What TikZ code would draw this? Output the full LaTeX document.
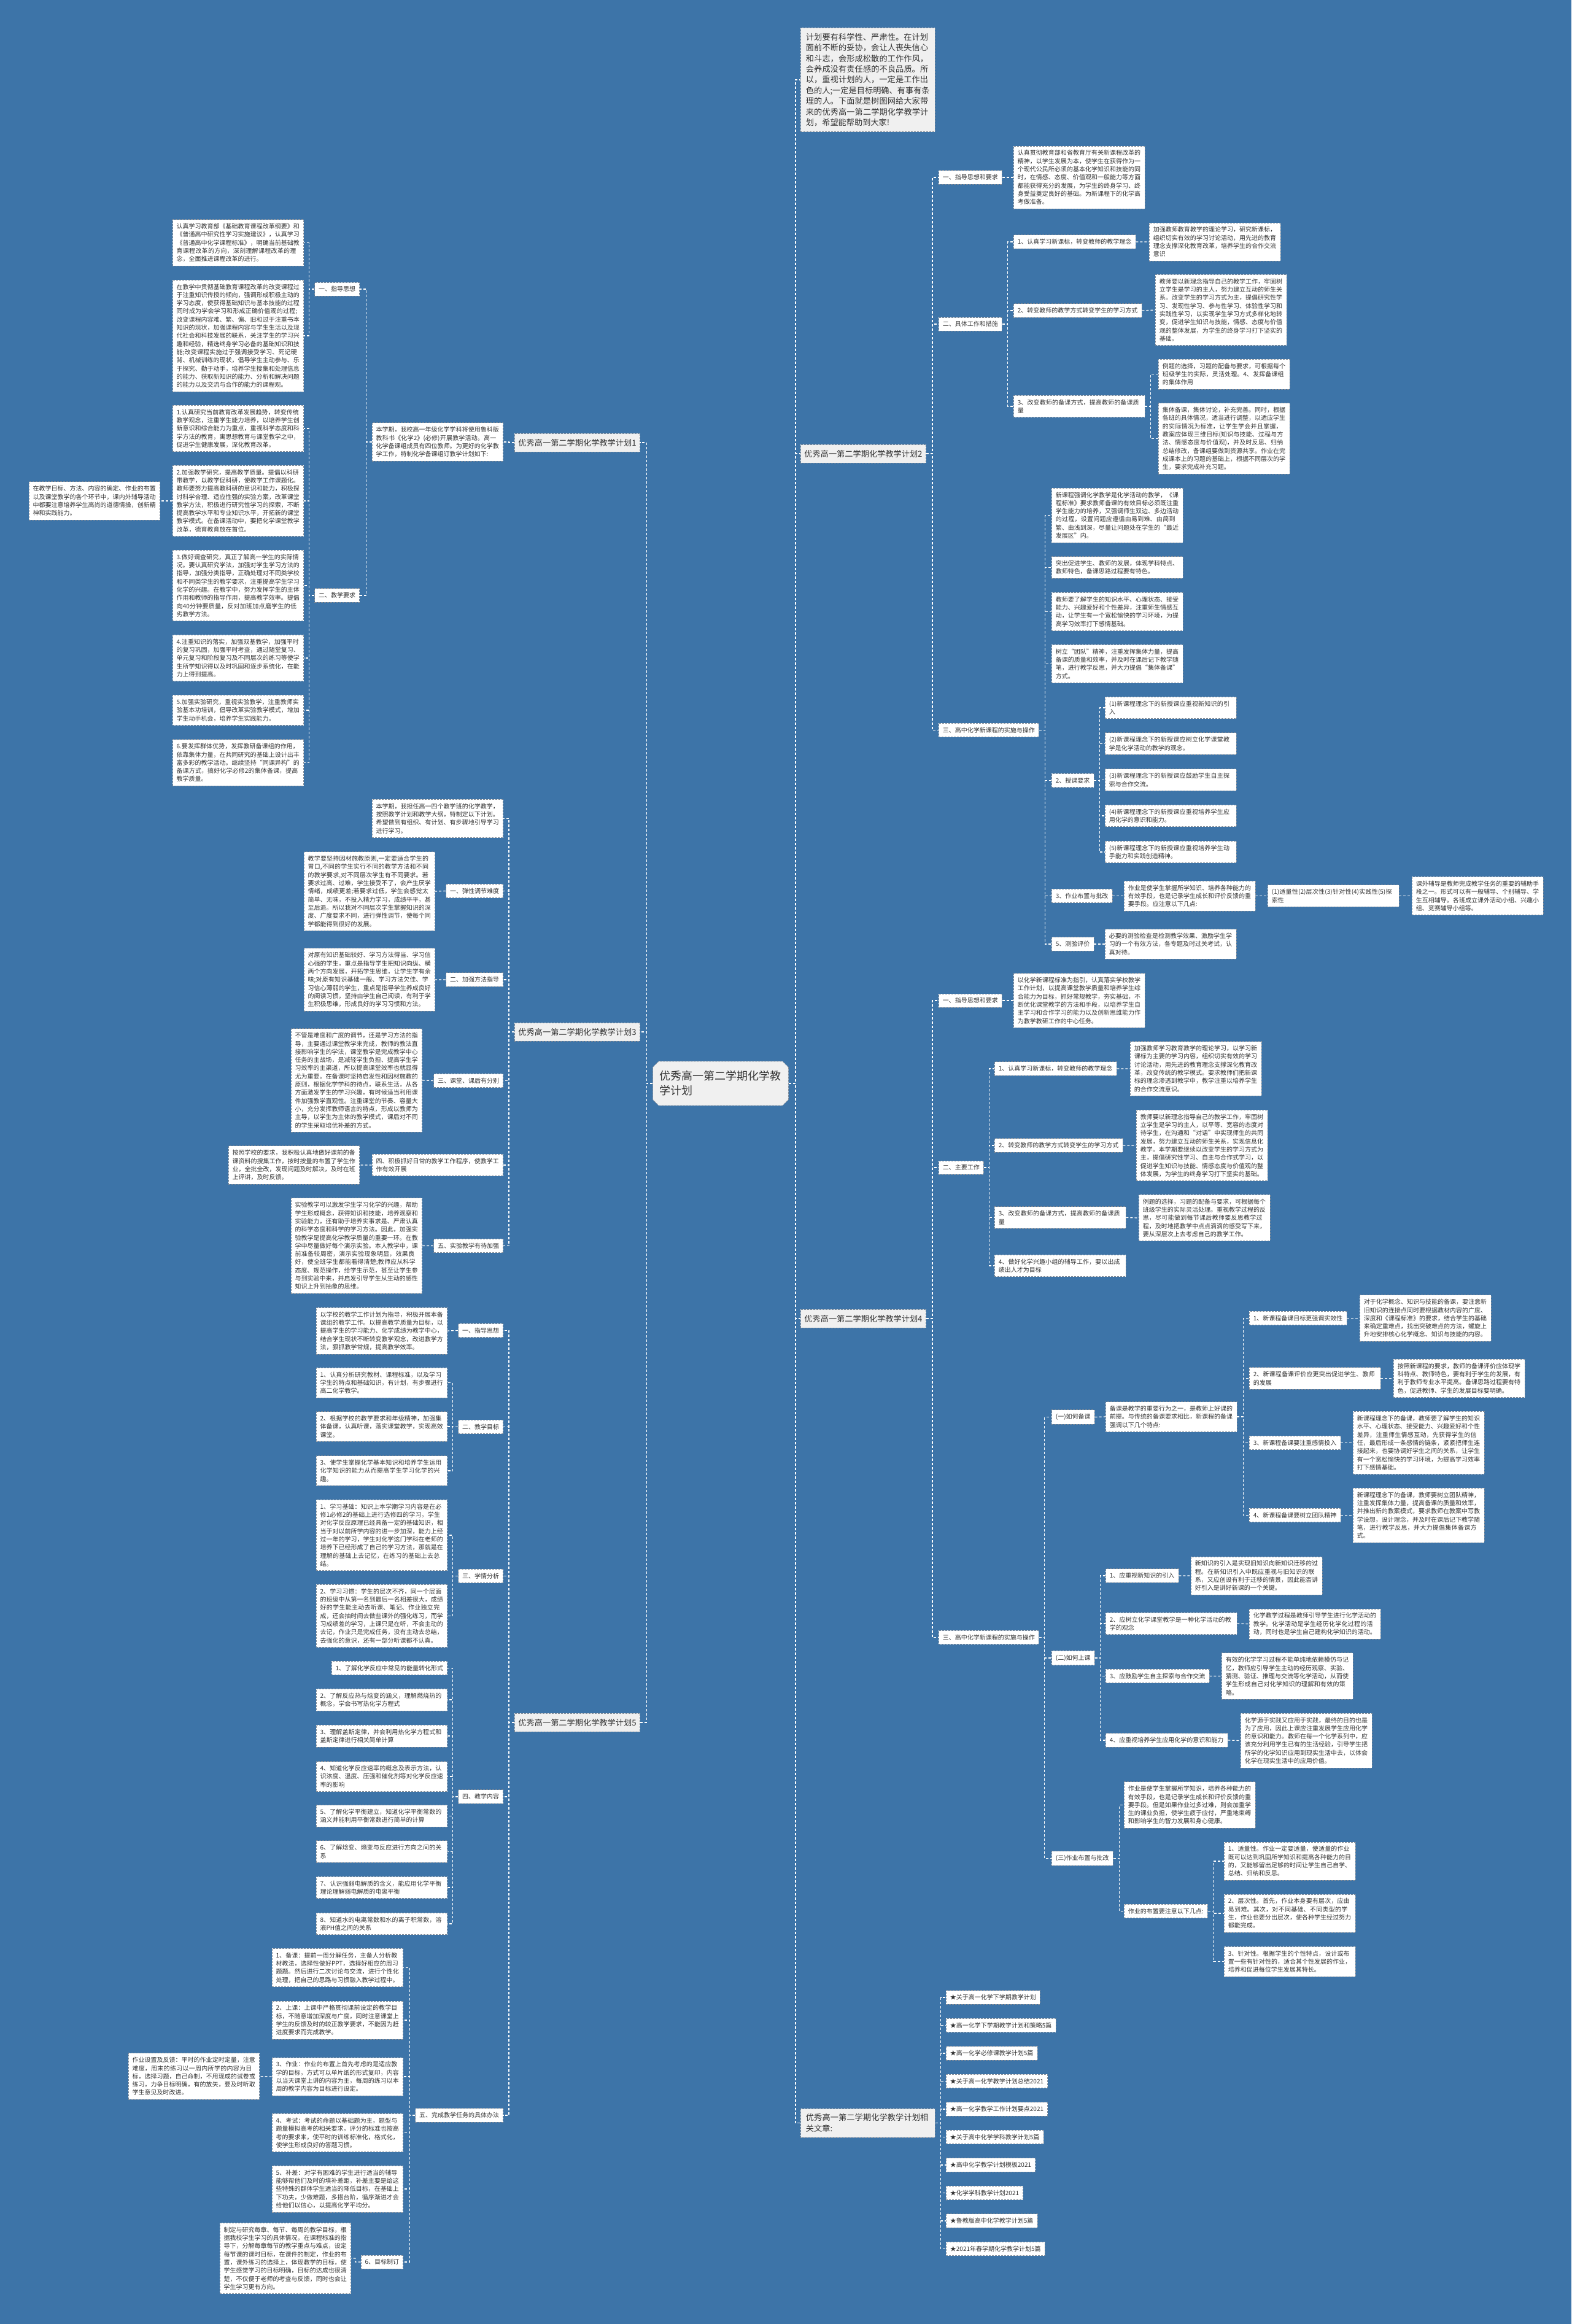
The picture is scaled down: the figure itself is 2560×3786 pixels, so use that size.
\documentclass[tikz,border=0pt]{standalone}
\usepackage{fontspec}
\setmainfont{Noto Sans CJK SC}
\XeTeXlinebreaklocale "zh"
\XeTeXlinebreakskip = 0pt plus 1pt
\usetikzlibrary{shapes.misc}
\definecolor{mapBlue}{RGB}{61,116,168}
\definecolor{boxEdge}{RGB}{130,140,152}
\definecolor{planFill}{RGB}{240,240,240}
\definecolor{inkGray}{RGB}{51,51,51}

\begin{document}
\begin{tikzpicture}[x=1pt, y=-1pt,
    link/.style={white, line width=1.2pt, dash pattern=on 4pt off 3pt},
    leaf/.style={draw=boxEdge, dash pattern=on 3pt off 2pt, line width=.8pt,
      fill=white, text=inkGray, font=\fontsize{10pt}{13.3pt}\selectfont,
      inner xsep=6.5pt, inner ysep=6.5pt, align=left},
    para/.style={leaf, text width=200.5pt},
    plan/.style={draw=boxEdge, dash pattern=on 3pt off 2pt, line width=.8pt,
      fill=planFill, text=inkGray, font=\fontsize{13.2pt}{17.4pt}\selectfont,
      inner xsep=6pt, inner ysep=8.8pt, align=left}]
  \fill[mapBlue] (0,0) rectangle (2560,3786);

  % centre
  \node[plan, chamfered rectangle, chamfered rectangle xsep=6pt,
        font=\fontsize{18pt}{24pt}\selectfont, text width=199pt,
        inner xsep=5pt, inner ysep=12pt] (root) at (1174,1765)
    {优秀高一第二学期化学教学计划};
  \node[plan, text width=202pt, inner xsep=8.5pt, anchor=west] (intro) at (1304,130)
    {计划要有科学性、严肃性。在计划面前不断的妥协，会让人丧失信心和斗志，会形成松散的工作作风，会养成没有责任感的不良品质。所以，重视计划的人，一定是工作出色的人;一定是目标明确、有事有条理的人。下面就是树图网给大家带来的优秀高一第二学期化学教学计划，希望能帮助到大家!};

  % plan 1
  \node[plan, anchor=east] (p1) at (1043,721) {优秀高一第二学期化学教学计划1};
  \node[para, anchor=east] (p1i) at (820,720) {本学期，我校高一年级化学学科将使用鲁科版教科书《化学2》(必修)开展教学活动。高一化学备课组成员有四位教师。为更好的化学教学工作，特制化学备课组订教学计划如下:};
  \node[leaf, anchor=east] (p1a) at (586,471) {一、指导思想};
  \node[para, anchor=east] (p1a1) at (495,395.5) {认真学习教育部《基础教育课程改革纲要》和《普通高中研究性学习实施建议》，认真学习《普通高中化学课程标准》，明确当前基础教育课程改革的方向，深刻理解课程改革的理念，全面推进课程改革的进行。};
  \node[para, anchor=east] (p1a2) at (495,547) {在教学中贯彻基础教育课程改革的改变课程过于注重知识传授的倾向，强调形成积极主动的学习态度，使获得基础知识与基本技能的过程同时成为学会学习和形成正确价值观的过程;改变课程内容难、繁、偏、旧和过于注重书本知识的现状，加强课程内容与学生生活以及现代社会和科技发展的联系，关注学生的学习兴趣和经验，精选终身学习必备的基础知识和技能;改变课程实施过于强调接受学习、死记硬背、机械训练的现状，倡导学生主动参与、乐于探究、勤于动手，培养学生搜集和处理信息的能力、获取新知识的能力、分析和解决问题的能力以及交流与合作的能力的课程观。};
  \node[leaf, anchor=east] (p1b) at (586,970) {二、教学要求};
  \node[para, anchor=east] (p1b1) at (495,698) {1.认真研究当前教育改革发展趋势，转变传统教学观念，注重学生能力培养，以培养学生创新意识和综合能力为重点，重视科学态度和科学方法的教育，寓思想教育与课堂教学之中，促进学生健康发展，深化教育改革。};
  \node[para, anchor=east] (p1b2) at (495,816) {2.加强教学研究，提高教学质量。提倡以科研带教学，以教学促科研，使教学工作课题化。教师要努力提高教科研的意识和能力，积极探讨科学合理、适应性强的实验方案，改革课堂教学方法，积极进行研究性学习的探索，不断提高教学水平和专业知识水平，开拓新的课堂教学模式。在备课活动中，要把化学课堂教学改革，德育教育放在首位。};
  \node[para, anchor=east] (p1b2x) at (261,816) {在教学目标、方法、内容的确定、作业的布置以及课堂教学的各个环节中，课内外辅导活动中都要注意培养学生高尚的道德情操，创新精神和实践能力。};
  \node[para, anchor=east] (p1b3) at (495,954) {3.做好调查研究，真正了解高一学生的实际情况。要认真研究学法，加强对学生学习方法的指导，加强分类指导，正确处理对不同类学校和不同类学生的教学要求，注重提高学生学习化学的兴趣。在教学中，努力发挥学生的主体作用和教师的指导作用，提高教学效率。提倡向40分钟要质量，反对加班加点磨学生的低劣教学方法。};
  \node[para, anchor=east] (p1b4) at (495,1072) {4.注重知识的落实，加强双基教学，加强平时的复习巩固，加强平时考查，通过随堂复习、单元复习和阶段复习及不同层次的练习等使学生所学知识得以及时巩固和逐步系统化，在能力上得到提高。};
  \node[para, anchor=east] (p1b5) at (495,1157) {5.加强实验研究，重视实验教学，注重教师实验基本功培训，倡导改革实验教学模式，增加学生动手机会，培养学生实践能力。};
  \node[para, anchor=east] (p1b6) at (495,1242.5) {6.要发挥群体优势，发挥教研备课组的作用，依靠集体力量，在共同研究的基础上设计出丰富多彩的教学活动。继续坚持“同课异构”的备课方式，搞好化学必修2的集体备课，提高教学质量。};

  % plan 3
  \node[plan, anchor=east] (p3) at (1043,1681) {优秀高一第二学期化学教学计划3};
  \node[para, anchor=east] (p3i) at (820,1333.5) {本学期，我担任高一四个教学班的化学教学，按照教学计划和教学大纲，特制定以下计划。希望做到有组织、有计划、有步骤地引导学习进行学习。};
  \node[leaf, anchor=east] (p3a) at (820,1451.5) {一、弹性调节难度};
  \node[para, anchor=east] (p3a1) at (709,1452) {教学要坚持因材施教原则,一定要适合学生的胃口,不同的学生实行不同的教学方法和不同的教学要求,对不同层次学生有不同要求。若要求过高、过难，学生接受不了，会产生厌学情绪，成绩更差;若要求过低，学生会感觉太简单、无味，不投入精力学习，成绩平平，甚至后退。所以我对不同层次学生掌握知识的深度、广度要求不同，进行弹性调节，使每个同学都能得到很好的发展。};
  \node[leaf, anchor=east] (p3b) at (820,1596) {二、加强方法指导};
  \node[para, anchor=east] (p3b1) at (709,1596) {对原有知识基础较好、学习方法得当、学习信心强的学生，重点是指导学生把知识向纵、横两个方向发展，开拓学生思维，让学生学有余味;对原有知识基础一般、学习方法欠佳、学习信心薄弱的学生，重点是指导学生养成良好的阅读习惯，坚持由学生自己阅读，有利于学生积极思维，形成良好的学习习惯和方法。};
  \node[leaf, anchor=east] (p3c) at (820,1760.5) {三、课堂、课后有分别};
  \node[para, anchor=east] (p3c1) at (688,1760) {不管是难度和广度的调节，还是学习方法的指导，主要通过课堂教学来完成，教师的教法直接影响学生的学法，课堂教学是完成教学中心任务的主战场，是减轻学生负担、提高学生学习效率的主渠道，所以提高课堂效率也就显得尤为重要。在备课时坚持启发性和因材施教的原则，根据化学学科的待点，联系生活，从各方面激发学生的学习兴趣，有时候适当利用课件加强教学直观性。注重课堂的节奏、容量大小，充分发挥教师语言的特点，形成以教师为主导，以学生为主体的教学模式，课后对不同的学生采取培优补差的方式。};
  \node[para, anchor=east] (p3d) at (820,1898) {四、积极抓好日常的教学工作程序，使教学工作有效开展};
  \node[para, anchor=east] (p3d1) at (586,1898) {按照学校的要求，我积极认真地做好课前的备课资料的搜集工作，按时按量的布置了学生作业，全批全改，发现问题及时解决，及时在班上评讲，及时反馈。};
  \node[leaf, anchor=east] (p3e) at (820,2029.5) {五、实验教学有待加强};
  \node[para, anchor=east] (p3e1) at (688,2029.5) {实验教学可以激发学生学习化学的兴趣，帮助学生形成概念，获得知识和技能，培养观察和实验能力，还有助于培养实事求是、严肃认真的科学态度和科学的学习方法。因此，加强实验教学是提高化学教学质量的重要一环。在教学中尽量做好每个演示实验。本人教学中，课前准备较周密，演示实验现象明显，效果良好，使全班学生都能看得清楚;教师应从科学态度、规范操作，给学生示范，甚至让学生参与到实验中来，并启发引导学生从生动的感性知识上升到抽象的思维。};

  % plan 5
  \node[plan, anchor=east] (p5) at (1043,2806) {优秀高一第二学期化学教学计划5};
  \node[leaf, anchor=east] (p5a) at (820,2167.5) {一、指导思想};
  \node[para, anchor=east] (p5a1) at (729,2168) {以学校的教学工作计划为指导，积极开展本备课组的教学工作。以提高教学质量为目标，以提高学生的学习能力、化学成绩为教学中心，结合学生现状不断转变教学观念，改进教学方法，狠抓教学常规，提高教学效率。};
  \node[leaf, anchor=east] (p5b) at (820,2324.5) {二、教学目标};
  \node[para, anchor=east] (p5b1) at (729,2252.5) {1、认真分析研究教材、课程标准，以及学习学生的特点和基础知识，有计划，有步骤进行高二化学教学。};
  \node[para, anchor=east] (p5b2) at (729,2324) {2、根据学校的教学要求和年级精神，加强集体备课，认真听课，落实课堂教学，实现高效课堂。};
  \node[para, anchor=east] (p5b3) at (729,2396) {3、使学生掌握化学基本知识和培养学生运用化学知识的能力从而提高学生学习化学的兴趣。};
  \node[leaf, anchor=east] (p5c) at (820,2567.5) {三、学情分析};
  \node[para, anchor=east] (p5c1) at (729,2501) {1、学习基础：知识上本学期学习内容是在必修1必修2的基础上进行选修四的学习，学生对化学反应原理已经具备一定的基础知识，相当于对以前所学内容的进一步加深，能力上经过一年的学习，学生对化学这门学科在老师的培养下已经形成了自己的学习方法，那就是在理解的基础上去记忆，在练习的基础上去总结。};
  \node[para, anchor=east] (p5c2) at (729,2632.5) {2、学习习惯：学生的层次不齐，同一个层面的班级中从第一名到最后一名相差很大，成绩好的学生能主动去听课、笔记、作业独立完成，还会抽时间去做些课外的强化练习，而学习成绩差的学习，上课只是在听，不会主动的去记，作业只是完成任务，没有主动去总结，去强化的意识，还有一部分听课都不认真。};
  \node[leaf, anchor=east] (p5d) at (820,2927) {四、教学内容};
  \node[leaf, anchor=east] (p5d1) at (729,2717.5) {1、了解化学反应中常见的能量转化形式};
  \node[para, anchor=east] (p5d2) at (729,2769) {2、了解反应热与焓变的涵义，理解燃烧热的概念，学会书写热化学方程式};
  \node[para, anchor=east] (p5d3) at (729,2828) {3、理解盖斯定律，并会利用热化学方程式和盖斯定律进行相关简单计算};
  \node[para, anchor=east] (p5d4) at (729,2894) {4、知道化学反应速率的概念及表示方法，认识浓度、温度、压强和催化剂等对化学反应速率的影响};
  \node[para, anchor=east] (p5d5) at (729,2958.5) {5、了解化学平衡建立，知道化学平衡常数的涵义并能利用平衡常数进行简单的计算};
  \node[para, anchor=east] (p5d6) at (729,3016.5) {6、了解焓变、熵变与反应进行方向之间的关系};
  \node[para, anchor=east] (p5d7) at (729,3075) {7、认识强弱电解质的含义，能应用化学平衡理论理解弱电解质的电离平衡};
  \node[para, anchor=east] (p5d8) at (729,3134) {8、知道水的电离常数和水的离子积常数，溶液PH值之间的关系};
  \node[leaf, anchor=east] (p5e) at (820,3446) {五、完成教学任务的具体办法};
  \node[para, anchor=east] (p5e1) at (657,3205.5) {1、备课：提前一周分解任务，主备人分析教材教法，选择性做好PPT，选择好相应的周习题题。然后进行二次讨论与交流，进行个性化处理，把自己的思路与习惯融入教学过程中。};
  \node[para, anchor=east] (p5e2) at (657,3291) {2、上课：上课中严格贯彻课前设定的教学目标，不随意增加深度与广度，同时注意课堂上学生的反馈及时的较正教学要求，不能因为赶进度要求而完成教学。};
  \node[para, anchor=east] (p5e3) at (657,3383) {3、作业：作业的布置上首先考虑的是适应教学的目标，方式可以单片纸的形式复印，内容以当天课堂上讲的内容为主，每周的练习以本周的教学内容为目标进行设定。};
  \node[para, anchor=east] (p5e3x) at (423,3382.5) {作业设置及反馈：平时的作业定时定量，注意难度，周末的练习以一周内所学的内容为目标，选择习题，自己命制，不用现成的试卷或练习，力争目标明确，有的放矢，要及时听取学生意见及时改进。};
  \node[para, anchor=east] (p5e4) at (657,3474.5) {4、考试：考试的命题以基础题为主，题型与题量模拟高考的相关要求，评分的标准也按高考的要求来，使平时的训练标准化，格式化，使学生形成良好的答题习惯。};
  \node[para, anchor=east] (p5e5) at (657,3566) {5、补差：对学有困难的学生进行适当的辅导能够帮他们及时的填补差距，补差主要是给这些特殊的群体学生适当的降低目标，在基础上下功夫，少做难题，多搭台阶，循序渐进才会给他们以信心，以提高化学平均分。};
  \node[leaf, anchor=east] (p5e6) at (657,3685) {6、目标制订};
  \node[para, anchor=east] (p5e6x) at (572,3679) {制定与研究每章、每节、每周的教学目标，根据我校学生学习的具体情况，在课程标准的指导下，分解每章每节的教学重点与难点，设定每节课的课时目标，在课件的制定，作业的布置，课外练习的选择上，体现教学的目标，使学生感觉学习的目标明确，目标的达成也很清楚，不仅便于老师的考查与反馈，同时也会让学生学习更有方向。};

  % plan 2
  \node[plan, anchor=west] (p2) at (1304,739) {优秀高一第二学期化学教学计划2};
  \node[leaf, anchor=west] (p2a) at (1529,289) {一、指导思想和要求};
  \node[para, anchor=west] (p2a1) at (1651,289) {认真贯彻教育部和省教育厅有关新课程改革的精神，以学生发展为本，使学生在获得作为一个现代公民所必须的基本化学知识和技能的同时，在情感、态度、价值观和一般能力等方面都能获得充分的发展，为学生的终身学习、终身受益奠定良好的基础。为新课程下的化学高考做准备。};
  \node[leaf, anchor=west] (p2b) at (1529,528) {二、具体工作和措施};
  \node[leaf, anchor=west] (p2b1) at (1651,394) {1、认真学习新课标，转变教师的教学理念};
  \node[para, anchor=west] (p2b1x) at (1872,394) {加强教师教育教学的理论学习，研究新课标，组织切实有效的学习讨论活动，用先进的教育理念支撑深化教育改革，培养学生的合作交流意识};
  \node[leaf, anchor=west] (p2b2) at (1651,506) {2、转变教师的教学方式转变学生的学习方式};
  \node[para, anchor=west] (p2b2x) at (1882,505) {教师要以新理念指导自己的教学工作，牢固树立学生是学习的主人，努力建立互动的师生关系。改变学生的学习方式为主，提倡研究性学习、发现性学习、参与性学习、体验性学习和实践性学习，以实现学生学习方式多样化地转变，促进学生知识与技能，情感、态度与价值观的整体发展，为学生的终身学习打下坚实的基础。};
  \node[para, anchor=west] (p2b3) at (1651,662) {3、改变教师的备课方式，提高教师的备课质量};
  \node[para, anchor=west] (p2b3x1) at (1887,609.5) {例题的选择，习题的配备与要求，可根据每个班级学生的实际，灵活处理。4、发挥备课组的集体作用};
  \node[para, anchor=west] (p2b3x2) at (1887,714.5) {集体备课，集体讨论，补充完善。同时，根据各班的具体情况，适当进行调整，以适应学生的实际情况为标准，让学生学会并且掌握，教案应体现三维目标(知识与技能、过程与方法、情感态度与价值观)，并及时反思、归纳总结修改，备课组要做到资源共享。作业在完成课本上的习题的基础上，根据不同层次的学生，要求完成补充习题。};
  \node[leaf, anchor=west] (p2c) at (1529,1189.5) {三、高中化学新课程的实施与操作};
  \node[para, anchor=west] (p2c1) at (1713,839.5) {新课程强调化学教学是化学活动的教学，《课程标准》要求教师备课的有效目标必须既注重学生能力的培养，又强调师生双边、多边活动的过程，设置问题应遵循由易到难、由简到繁、由浅到深，尽量让问题处在学生的“最近发展区”内。};
  \node[para, anchor=west] (p2c2) at (1713,924.5) {突出促进学生、教师的发展，体现学科特点、教师特色，备课思路过程要有特色。};
  \node[para, anchor=west] (p2c3) at (1713,996.5) {教师要了解学生的知识水平、心理状态、接受能力、兴趣爱好和个性差异，注重师生情感互动，让学生有一个宽松愉快的学习环境，为提高学习效率打下感情基础。};
  \node[para, anchor=west] (p2c4) at (1713,1081.5) {树立“团队”精神，注重发挥集体力量，提高备课的质量和效率，并及时在课后记下教学随笔，进行教学反思，并大力提倡“集体备课”方式。};
  \node[leaf, anchor=west] (p2c5) at (1713,1271.5) {2、授课要求};
  \node[para, anchor=west] (p2c5a) at (1800,1153) {(1)新课程理念下的新授课应重视新知识的引入};
  \node[para, anchor=west] (p2c5b) at (1800,1211.5) {(2)新课程理念下的新授课应树立化学课堂教学是化学活动的教学的观念。};
  \node[para, anchor=west] (p2c5c) at (1800,1270.5) {(3)新课程理念下的新授课应鼓励学生自主探索与合作交流。};
  \node[para, anchor=west] (p2c5d) at (1800,1329) {(4)新课程理念下的新授课应重视培养学生应用化学的意识和能力。};
  \node[para, anchor=west] (p2c5e) at (1800,1388) {(5)新课程理念下的新授课应重视培养学生动手能力和实践创造精神。};
  \node[leaf, anchor=west] (p2c6) at (1713,1459.5) {3、作业布置与批改};
  \node[para, anchor=west] (p2c6x) at (1831,1459.5) {作业是使学生掌握所学知识、培养各种能力的有效手段，也是记录学生成长和评价反馈的重要手段。应注意以下几点:};
  \node[para, anchor=west] (p2c6y) at (2065,1459.5) {(1)适量性(2)层次性(3)针对性(4)实践性(5)探索性};
  \node[para, anchor=west] (p2c6z) at (2300,1459.5) {课外辅导是教师完成教学任务的重要的辅助手段之一。形式可以有一般辅导、个别辅导、学生互相辅导。各班成立课外活动小组、兴趣小组、竞赛辅导小组等。};
  \node[leaf, anchor=west] (p2c7) at (1713,1538) {5、测验评价};
  \node[para, anchor=west] (p2c7x) at (1800,1538) {必要的测验检查是检测教学效果、激励学生学习的一个有效方法，各专题及时过关考试，认真对待。};

  % plan 4
  \node[plan, anchor=west] (p4) at (1304,2148) {优秀高一第二学期化学教学计划4};
  \node[leaf, anchor=west] (p4a) at (1529,1630) {一、指导思想和要求};
  \node[para, anchor=west] (p4a1) at (1651,1630) {以化学新课程标准为指引，认真落实学校教学工作计划，以提高课堂教学质量和培养学生综合能力为目标，抓好常规教学，夯实基础，不断优化课堂教学的方法和手段，以培养学生自主学习和合作学习的能力以及创新思维能力作为教学教研工作的中心任务。};
  \node[leaf, anchor=west] (p4b) at (1529,1902) {二、主要工作};
  \node[leaf, anchor=west] (p4b1) at (1620,1741) {1、认真学习新课标，转变教师的教学理念};
  \node[para, anchor=west] (p4b1x) at (1841,1741) {加强教师学习教育教学的理论学习，以学习新课标为主要的学习内容，组织切实有效的学习讨论活动，用先进的教育理念支撑深化教育改革，改变传统的教学模式。要求教师们把新课标的理念渗透到教学中，教学注重以培养学生的合作交流意识。};
  \node[leaf, anchor=west] (p4b2) at (1620,1866) {2、转变教师的教学方式转变学生的学习方式};
  \node[para, anchor=west] (p4b2x) at (1851,1866) {教师要以新理念指导自己的教学工作，牢固树立学生是学习的主人，以平等、宽容的态度对待学生，在沟通和“对话”中实现师生的共同发展，努力建立互动的师生关系，实现信息化教学。本学期要继续以改变学生的学习方式为主，提倡研究性学习、自主与合作式学习，以促进学生知识与技能、情感态度与价值观的整体发展，为学生的终身学习打下坚实的基础。};
  \node[para, anchor=west] (p4b3) at (1620,1983.5) {3、改变教师的备课方式，提高教师的备课质量};
  \node[para, anchor=west] (p4b3x) at (1855,1984) {例题的选择，习题的配备与要求，可根据每个班级学生的实际灵活处理。重视教学过程的反思，尽可能做到每节课后教师要反思教学过程，及时地把教学中点点滴滴的感受写下来，要从深层次上去考虑自己的教学工作。};
  \node[para, anchor=west] (p4b4) at (1620,2062) {4、做好化学兴趣小组的辅导工作，要以出成绩出人才为目标};
  \node[leaf, anchor=west] (p4c) at (1529,2667.5) {三、高中化学新课程的实施与操作};
  \node[leaf, anchor=west] (p4c1) at (1713,2308.5) {(一)如何备课};
  \node[para, anchor=west] (p4c1x) at (1801,2308) {备课是教学的重要行为之一，是教师上好课的前提。与传统的备课要求相比，新课程的备课强调以下几个特点:};
  \node[leaf, anchor=west] (p4c1x1) at (2035,2147.5) {1、新课程备课目标更强调实效性};
  \node[para, anchor=west] (p4c1x1a) at (2215,2147.5) {对于化学概念、知识与技能的备课，要注意新旧知识的连接点同时要根据教材内容的广度、深度和《课程标准》的要求，结合学生的基础来确定重难点，找出突破难点的方法，螺旋上升地安排核心化学概念、知识与技能的内容。};
  \node[para, anchor=west] (p4c1x2) at (2035,2245.5) {2、新课程备课评价应更突出促进学生、教师的发展};
  \node[para, anchor=west] (p4c1x2a) at (2270,2245.5) {按照新课程的要求，教师的备课评价应体现学科特点、教师特色，要有利于学生的发展，有利于教师专业水平提高。备课思路过程要有特色，促进教师、学生的发展目标要明确。};
  \node[leaf, anchor=west] (p4c1x3) at (2035,2350.5) {3、新课程备课要注重感情投入};
  \node[para, anchor=west] (p4c1x3a) at (2204,2350.5) {新课程理念下的备课，教师要了解学生的知识水平、心理状态、接受能力、兴趣爱好和个性差异，注重师生情感互动，先获得学生的信任，最后形成一条感情的链条，紧紧把师生连接起来，也要协调好学生之间的关系，让学生有一个宽松愉快的学习环境，为提高学习效率打下感情基础。};
  \node[leaf, anchor=west] (p4c1x4) at (2035,2468.5) {4、新课程备课要树立团队精神};
  \node[para, anchor=west] (p4c1x4a) at (2204,2468.5) {新课程理念下的备课，教师要树立团队精神，注重发挥集体力量，提高备课的质量和效率，并推出新的教案模式，要求教师在教案中写教学设想，设计理念，并及时在课后记下教学随笔，进行教学反思，并大力提倡集体备课方式。};
  \node[leaf, anchor=west] (p4c2) at (1713,2701) {(二)如何上课};
  \node[leaf, anchor=west] (p4c2a) at (1801,2567) {1、应重视新知识的引入};
  \node[para, anchor=west] (p4c2ax) at (1940,2567) {新知识的引入是实现旧知识向新知识迁移的过程。在新知识引入中既应重视与旧知识的联系，又应创设有利于迁移的情景，因此能否讲好引入是讲好新课的一个关键。};
  \node[para, anchor=west] (p4c2b) at (1801,2645) {2、应树立化学课堂教学是一种化学活动的教学的观念};
  \node[para, anchor=west] (p4c2bx) at (2035,2645.5) {化学教学过程是教师引导学生进行化学活动的教学。化学活动是学生经历化学化过程的活动，同时也是学生自己建构化学知识的活动。};
  \node[leaf, anchor=west] (p4c2c) at (1801,2730.5) {3、应鼓励学生自主探索与合作交流};
  \node[para, anchor=west] (p4c2cx) at (1990,2730.5) {有效的化学学习过程不能单纯地依赖模仿与记忆，教师应引导学生主动的经历观察、实验、猜测、验证、推理与交流等化学活动，从而使学生形成自己对化学知识的理解和有效的策略。};
  \node[leaf, anchor=west] (p4c2d) at (1801,2835) {4、应重视培养学生应用化学的意识和能力};
  \node[para, anchor=west] (p4c2dx) at (2021,2835.5) {化学源于实践又应用于实践，最终的目的也是为了应用，因此上课应注重发展学生应用化学的意识和能力。教师在每一个化学系列中，应该充分利用学生已有的生活经验，引导学生把所学的化学知识应用到现实生活中去，以体会化学在现实生活中的应用价值。};
  \node[leaf, anchor=west] (p4c3) at (1713,3027.5) {(三)作业布置与批改};
  \node[para, anchor=west] (p4c3a) at (1831,2940.5) {作业是使学生掌握所学知识，培养各种能力的有效手段，也是记录学生成长和评价反馈的重要手段。但是如果作业过多过难，则会加重学生的课业负担，使学生疲于应付，严重地束缚和影响学生的智力发展和身心健康。};
  \node[leaf, anchor=west] (p4c3b) at (1831,3113.5) {作业的布置要注意以下几点:};
  \node[para, anchor=west] (p4c3b1) at (1994,3032) {1、适量性。作业一定要适量，使适量的作业既可以达到巩固所学知识和提高各种能力的目的，又能够留出足够的时间让学生自己自学、总结、归纳和反思。};
  \node[para, anchor=west] (p4c3b2) at (1994,3117) {2、层次性。首先，作业本身要有层次，应由易到难。其次，对不同基础、不同类型的学生，作业也要分出层次，使各种学生经过努力都能完成。};
  \node[para, anchor=west] (p4c3b3) at (1994,3195.5) {3、针对性。根据学生的个性特点，设计或布置一些有针对性的，适合其个性发展的作业，培养和促进每位学生发展其特长。};

  % related articles
  \node[plan, text width=202pt, inner xsep=8.5pt, anchor=west] (rel) at (1304,3458.5) {优秀高一第二学期化学教学计划相关文章:};
  \node[leaf, anchor=west] (r1) at (1541,3254) {★关于高一化学下学期教学计划};
  \node[leaf, anchor=west] (r2) at (1541,3299.5) {★高一化学下学期教学计划和策略5篇};
  \node[leaf, anchor=west] (r3) at (1541,3345) {★高一化学必修课教学计划5篇};
  \node[leaf, anchor=west] (r4) at (1541,3390.5) {★关于高一化学教学计划总结2021};
  \node[leaf, anchor=west] (r5) at (1541,3436) {★高一化学教学工作计划要点2021};
  \node[leaf, anchor=west] (r6) at (1541,3481.5) {★关于高中化学学科教学计划5篇};
  \node[leaf, anchor=west] (r7) at (1541,3527) {★高中化学教学计划模板2021};
  \node[leaf, anchor=west] (r8) at (1541,3572.5) {★化学学科教学计划2021};
  \node[leaf, anchor=west] (r9) at (1541,3618) {★鲁教版高中化学教学计划5篇};
  \node[leaf, anchor=west] (r10) at (1541,3663.5) {★2021年春学期化学教学计划5篇};

  % connectors, left side
  \draw[link] (root.west) -- ++(-10,0) |- (p1.east)
              (root.west) -- ++(-10,0) |- (p3.east)
              (root.west) -- ++(-10,0) |- (p5.east);
  \draw[link] (p1.west) -- ++(-9,0) |- (p1i.east);
  \draw[link] (p1i.west) -- ++(-9,0) |- (p1a.east)
              (p1i.west) -- ++(-9,0) |- (p1b.east);
  \draw[link] (p1a.west) -- ++(-9,0) |- (p1a1.east)
              (p1a.west) -- ++(-9,0) |- (p1a2.east);
  \draw[link] (p1b.west) -- ++(-9,0) |- (p1b1.east)
              (p1b.west) -- ++(-9,0) |- (p1b2.east)
              (p1b.west) -- ++(-9,0) |- (p1b3.east)
              (p1b.west) -- ++(-9,0) |- (p1b4.east)
              (p1b.west) -- ++(-9,0) |- (p1b5.east)
              (p1b.west) -- ++(-9,0) |- (p1b6.east);
  \draw[link] (p1b2.west) -- (p1b2x.east);
  \draw[link] (p3.west) -- ++(-9,0) |- (p3i.east)
              (p3.west) -- ++(-9,0) |- (p3a.east)
              (p3.west) -- ++(-9,0) |- (p3b.east)
              (p3.west) -- ++(-9,0) |- (p3c.east)
              (p3.west) -- ++(-9,0) |- (p3d.east)
              (p3.west) -- ++(-9,0) |- (p3e.east);
  \draw[link] (p3a.west) -- (p3a1.east)
              (p3b.west) -- (p3b1.east)
              (p3c.west) -- (p3c1.east)
              (p3d.west) -- (p3d1.east)
              (p3e.west) -- (p3e1.east);
  \draw[link] (p5.west) -- ++(-9,0) |- (p5a.east)
              (p5.west) -- ++(-9,0) |- (p5b.east)
              (p5.west) -- ++(-9,0) |- (p5c.east)
              (p5.west) -- ++(-9,0) |- (p5d.east)
              (p5.west) -- ++(-9,0) |- (p5e.east);
  \draw[link] (p5a.west) -- (p5a1.east);
  \draw[link] (p5b.west) -- ++(-9,0) |- (p5b1.east)
              (p5b.west) -- ++(-9,0) |- (p5b2.east)
              (p5b.west) -- ++(-9,0) |- (p5b3.east);
  \draw[link] (p5c.west) -- ++(-9,0) |- (p5c1.east)
              (p5c.west) -- ++(-9,0) |- (p5c2.east);
  \draw[link] (p5d.west) -- ++(-9,0) |- (p5d1.east)
              (p5d.west) -- ++(-9,0) |- (p5d2.east)
              (p5d.west) -- ++(-9,0) |- (p5d3.east)
              (p5d.west) -- ++(-9,0) |- (p5d4.east)
              (p5d.west) -- ++(-9,0) |- (p5d5.east)
              (p5d.west) -- ++(-9,0) |- (p5d6.east)
              (p5d.west) -- ++(-9,0) |- (p5d7.east)
              (p5d.west) -- ++(-9,0) |- (p5d8.east);
  \draw[link] (p5e.west) -- ++(-9,0) |- (p5e1.east)
              (p5e.west) -- ++(-9,0) |- (p5e2.east)
              (p5e.west) -- ++(-9,0) |- (p5e3.east)
              (p5e.west) -- ++(-9,0) |- (p5e4.east)
              (p5e.west) -- ++(-9,0) |- (p5e5.east)
              (p5e.west) -- ++(-9,0) |- (p5e6.east);
  \draw[link] (p5e3.west) -- (p5e3x.east)
              (p5e6.west) -- ++(-9,0) |- (p5e6x.east);

  % connectors, right side
  \draw[link] (root.east) -- ++(11,0) |- (intro.west)
              (root.east) -- ++(11,0) |- (p2.west)
              (root.east) -- ++(11,0) |- (p4.west)
              (root.east) -- ++(11,0) |- (rel.west);
  \draw[link] (p2.east) -- ++(10,0) |- (p2a.west)
              (p2.east) -- ++(10,0) |- (p2b.west)
              (p2.east) -- ++(10,0) |- (p2c.west);
  \draw[link] (p2a.east) -- (p2a1.west);
  \draw[link] (p2b.east) -- ++(9,0) |- (p2b1.west)
              (p2b.east) -- ++(9,0) |- (p2b2.west)
              (p2b.east) -- ++(9,0) |- (p2b3.west);
  \draw[link] (p2b1.east) -- (p2b1x.west)
              (p2b2.east) -- (p2b2x.west);
  \draw[link] (p2b3.east) -- ++(9,0) |- (p2b3x1.west)
              (p2b3.east) -- ++(9,0) |- (p2b3x2.west);
  \draw[link] (p2c.east) -- ++(10,0) |- (p2c1.west)
              (p2c.east) -- ++(10,0) |- (p2c2.west)
              (p2c.east) -- ++(10,0) |- (p2c3.west)
              (p2c.east) -- ++(10,0) |- (p2c4.west)
              (p2c.east) -- ++(10,0) |- (p2c5.west)
              (p2c.east) -- ++(10,0) |- (p2c6.west)
              (p2c.east) -- ++(10,0) |- (p2c7.west);
  \draw[link] (p2c5.east) -- ++(9,0) |- (p2c5a.west)
              (p2c5.east) -- ++(9,0) |- (p2c5b.west)
              (p2c5.east) -- ++(9,0) |- (p2c5c.west)
              (p2c5.east) -- ++(9,0) |- (p2c5d.west)
              (p2c5.east) -- ++(9,0) |- (p2c5e.west);
  \draw[link] (p2c6.east) -- (p2c6x.west)
              (p2c6x.east) -- (p2c6y.west)
              (p2c6y.east) -- (p2c6z.west)
              (p2c7.east) -- (p2c7x.west);
  \draw[link] (p4.east) -- ++(10,0) |- (p4a.west)
              (p4.east) -- ++(10,0) |- (p4b.west)
              (p4.east) -- ++(10,0) |- (p4c.west);
  \draw[link] (p4a.east) -- (p4a1.west);
  \draw[link] (p4b.east) -- ++(9,0) |- (p4b1.west)
              (p4b.east) -- ++(9,0) |- (p4b2.west)
              (p4b.east) -- ++(9,0) |- (p4b3.west)
              (p4b.east) -- ++(9,0) |- (p4b4.west);
  \draw[link] (p4b1.east) -- (p4b1x.west)
              (p4b2.east) -- (p4b2x.west)
              (p4b3.east) -- (p4b3x.west);
  \draw[link] (p4c.east) -- ++(9,0) |- (p4c1.west)
              (p4c.east) -- ++(9,0) |- (p4c2.west)
              (p4c.east) -- ++(9,0) |- (p4c3.west);
  \draw[link] (p4c1.east) -- (p4c1x.west);
  \draw[link] (p4c1x.east) -- ++(10,0) |- (p4c1x1.west)
              (p4c1x.east) -- ++(10,0) |- (p4c1x2.west)
              (p4c1x.east) -- ++(10,0) |- (p4c1x3.west)
              (p4c1x.east) -- ++(10,0) |- (p4c1x4.west);
  \draw[link] (p4c1x1.east) -- (p4c1x1a.west)
              (p4c1x2.east) -- (p4c1x2a.west)
              (p4c1x3.east) -- (p4c1x3a.west)
              (p4c1x4.east) -- (p4c1x4a.west);
  \draw[link] (p4c2.east) -- ++(9,0) |- (p4c2a.west)
              (p4c2.east) -- ++(9,0) |- (p4c2b.west)
              (p4c2.east) -- ++(9,0) |- (p4c2c.west)
              (p4c2.east) -- ++(9,0) |- (p4c2d.west);
  \draw[link] (p4c2a.east) -- (p4c2ax.west)
              (p4c2b.east) -- (p4c2bx.west)
              (p4c2c.east) -- (p4c2cx.west)
              (p4c2d.east) -- (p4c2dx.west);
  \draw[link] (p4c3.east) -- ++(10,0) |- (p4c3a.west)
              (p4c3.east) -- ++(10,0) |- (p4c3b.west);
  \draw[link] (p4c3b.east) -- ++(9,0) |- (p4c3b1.west)
              (p4c3b.east) -- ++(9,0) |- (p4c3b2.west)
              (p4c3b.east) -- ++(9,0) |- (p4c3b3.west);
  \draw[link] (rel.east) -- ++(9,0) |- (r1.west)
              (rel.east) -- ++(9,0) |- (r2.west)
              (rel.east) -- ++(9,0) |- (r3.west)
              (rel.east) -- ++(9,0) |- (r4.west)
              (rel.east) -- ++(9,0) |- (r5.west)
              (rel.east) -- ++(9,0) |- (r6.west)
              (rel.east) -- ++(9,0) |- (r7.west)
              (rel.east) -- ++(9,0) |- (r8.west)
              (rel.east) -- ++(9,0) |- (r9.west)
              (rel.east) -- ++(9,0) |- (r10.west);
\end{tikzpicture}
\end{document}
